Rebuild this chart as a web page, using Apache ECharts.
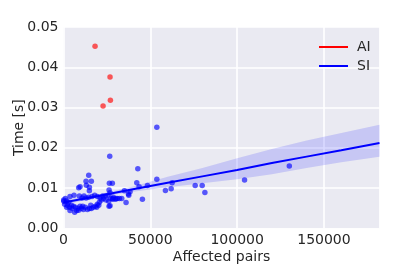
<!DOCTYPE html>
<html>
<head>
<meta charset="utf-8">
<script src="https://cdn.jsdelivr.net/npm/echarts@6/dist/echarts.min.js"></script>
<style>
html,body{margin:0;padding:0;background:#fff;}
#c{width:407px;height:280px;}
</style>
</head>
<body>
<div id="c"></div>
<script>
// AI points
const aiX = [18170, 26800, 27000, 22780];
const aiY = [0.0452, 0.0376, 0.0318, 0.0304];

// SI points
const siX = [100,673,1826,2210,3364,3748,4901,5670,6823,7592,8361,9514,10280,11440,12590,13740,14900,16050,17200,18350,19510,20660,21810,22970,24500,26040,27200,28350,29890,31040,32190,26240,1826,2980,4517,6439,8745,11050,15660,19120,20280,
6054,9130,10670,11820,13010,14510,16430,17970,19510,21050,22590,24120,25660,28730,30270,3748,1057,200,
8745,9514,14900,14900,26240,26810,38340,37380,33540,35060,37600,28370,26800,
53750,26630,42800,14530,12980,16040,26420,28140,13150,42200,53750,48330,43540,62570,58700,62000,45440,36040,75840,79870,81430,104270,130050];
const siY = [0.0070,0.0060,0.0068,0.0057,0.0052,0.0044,0.0050,0.0055,0.0052,0.0044,0.0050,0.0055,0.0050,0.0047,0.0052,0.0047,0.0049,0.0049,0.0052,0.0055,0.0060,0.0065,0.0070,0.0074,0.0070,0.0067,0.0074,0.0074,0.0072,0.0074,0.0074,0.0055,0.0052,0.0064,0.0057,0.0040,0.0045,0.0055,0.0057,0.0052,0.0057,
0.0082,0.0080,0.0075,0.0080,0.0075,0.0077,0.0079,0.0082,0.0079,0.0075,0.0080,0.0080,0.0082,0.0077,0.0074,0.0079,0.0074,0.0067,
0.0101,0.0103,0.0102,0.0093,0.0095,0.0088,0.0091,0.0085,0.0074,0.0093,0.0082,0.0072,0.0056,
0.0251,0.0179,0.0148,0.0132,0.0117,0.0117,0.0112,0.0112,0.0107,0.0113,0.0122,0.0106,0.0103,0.0113,0.0094,0.0098,0.0072,0.0064,0.0106,0.0106,0.0089,0.0120,0.0155];

// SI regression fit and confidence band
const bandX = [0, 20000, 40000, 60000, 80000, 100000, 120000, 140000, 160000, 182000];
const fitY = [0.0064, 0.0080, 0.0097, 0.0113, 0.0129, 0.0145, 0.0162, 0.0178, 0.0194, 0.0212];
const bandUpper = [0.0070, 0.0084, 0.0104, 0.0128, 0.0150, 0.0174, 0.0197, 0.0218, 0.0237, 0.0257];
const bandLower = [0.0058, 0.0077, 0.0091, 0.0102, 0.0112, 0.0122, 0.0134, 0.0150, 0.0164, 0.0178];

const xTicks = [0, 50000, 100000, 150000];
const yTicks = [0, 0.01, 0.02, 0.03, 0.04, 0.05];

const chart = echarts.init(document.getElementById('c'), null, {renderer: 'canvas'});
const font = 'DejaVu Sans';
const txt = '#262626';

const zip = (a, b) => a.map((v, i) => [v, b[i]]);

chart.setOption({
  animation: false,
  backgroundColor: '#ffffff',
  grid: {left: 63.5, right: 27.5, top: 27, bottom: 51.7, show: true, backgroundColor: '#EAEAF2', borderWidth: 0,
         containLabel: false, outerBoundsMode: 'none'},
  xAxis: {
    type: 'value', min: xTicks[0], max: 182000, interval: 50000,
    name: 'Affected pairs', nameLocation: 'middle', nameGap: 22, nameMoveOverlap: false,
    nameTextStyle: {fontFamily: font, fontSize: 14, color: txt},
    axisLine: {show: false}, axisTick: {show: false},
    axisLabel: {fontFamily: font, fontSize: 14, color: txt, margin: 5, showMaxLabel: false, formatter: v => String(v)},
    splitLine: {lineStyle: {color: '#ffffff', width: 1.6}}
  },
  yAxis: {
    type: 'value', min: yTicks[0], max: yTicks[yTicks.length - 1], interval: 0.01,
    name: 'Time [s]', nameLocation: 'middle', nameGap: 37, nameMoveOverlap: false,
    nameTextStyle: {fontFamily: font, fontSize: 14, color: txt},
    axisLine: {show: false}, axisTick: {show: false},
    axisLabel: {fontFamily: font, fontSize: 14, color: txt, margin: 5, formatter: v => v.toFixed(2)},
    splitLine: {lineStyle: {color: '#ffffff', width: 1.6}}
  },
  legend: {
    orient: 'vertical', left: 314, top: 35, itemWidth: 29, itemHeight: 2, itemGap: 5,
    textStyle: {fontFamily: font, fontSize: 14, color: txt, padding: [0, 0, 0, 4]},
    data: [
      {name: 'AI', icon: 'rect', itemStyle: {color: '#ff0000', opacity: 1}},
      {name: 'SI', icon: 'rect', itemStyle: {color: '#0000ff', opacity: 1}}
    ]
  },
  series: [
    {
      name: 'SI band', type: 'custom', silent: true, z: 1,
      data: [0],
      renderItem: (params, api) => {
        const pts = [];
        for (let i = 0; i < bandX.length; i++) pts.push(api.coord([bandX[i], bandUpper[i]]));
        for (let i = bandX.length - 1; i >= 0; i--) pts.push(api.coord([bandX[i], bandLower[i]]));
        return {type: 'polygon', shape: {points: pts}, style: {fill: 'rgba(0,0,255,0.15)'}};
      }
    },
    {
      name: 'SI', type: 'scatter', z: 3, symbolSize: 5.5,
      itemStyle: {color: 'rgba(0,0,255,0.8)'},
      data: zip(siX, siY)
    },
    {
      name: 'AI', type: 'scatter', z: 3, symbolSize: 5.5,
      itemStyle: {color: 'rgba(255,0,0,0.8)'},
      data: zip(aiX, aiY)
    },
    {
      name: 'SI fit', type: 'line', z: 4, showSymbol: false, symbol: 'none',
      lineStyle: {color: '#0000ff', width: 2},
      data: zip(bandX, fitY)
    }
  ]
});
</script>
</body>
</html>
